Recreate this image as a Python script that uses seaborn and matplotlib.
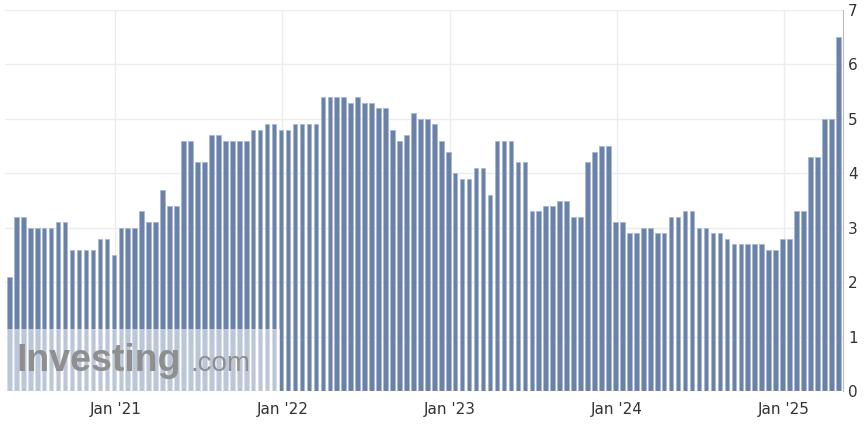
import numpy as np
import pandas as pd
import seaborn as sns
import matplotlib.pyplot as plt
from matplotlib.patches import Rectangle

# semi-monthly readings, mid-2020 to spring 2025
values = [2.1, 3.2, 3.2, 3.0, 3.0, 3.0, 3.0, 3.1, 3.1, 2.6, 2.6, 2.6, 2.6, 2.8, 2.8, 2.5,
          3.0, 3.0, 3.0, 3.3, 3.1, 3.1, 3.7, 3.4, 3.4, 4.6, 4.6, 4.2, 4.2, 4.7, 4.7, 4.6,
          4.6, 4.6, 4.6, 4.8, 4.8, 4.9, 4.9, 4.8, 4.8,
          4.9, 4.9, 4.9, 4.9, 5.4, 5.4, 5.4, 5.4, 5.3, 5.4, 5.3, 5.3, 5.2, 5.2, 4.8, 4.6,
          4.7, 5.1, 5.0, 5.0, 4.9, 4.6, 4.4, 4.0, 3.9, 3.9, 4.1, 4.1, 3.6, 4.6, 4.6, 4.6,
          4.2, 4.2, 3.3, 3.3, 3.4, 3.4, 3.5, 3.5,
          3.2, 3.2, 4.2, 4.4, 4.5, 4.5, 3.1, 3.1, 2.9, 2.9, 3.0, 3.0, 2.9, 2.9, 3.2, 3.2,
          3.3, 3.3, 3.0, 3.0, 2.9, 2.9, 2.8, 2.7, 2.7, 2.7, 2.7, 2.7, 2.6, 2.6, 2.8, 2.8,
          3.3, 3.3, 4.3, 4.3, 5.0, 5.0, 6.5]
tick_labels = ["Jan '21", "Jan '22", "Jan '23", "Jan '24", "Jan '25"]
first_jan = 15.2  # position of Jan '21 in bar index units

df = pd.DataFrame({"idx": np.arange(len(values)), "value": values})

fig = plt.figure(figsize=(8.65, 4.3), dpi=100)
ax = fig.add_axes([0.006, 0.09, 0.968, 0.887])
sns.barplot(data=df, x="idx", y="value", ax=ax, color="#6a82aa", width=0.66,
            saturation=1, edgecolor="#a9b8d0", linewidth=0.6)

ax.set_xlim(-0.6, len(values) - 0.4)
ax.set_ylim(0, 7)
ax.set_xlabel("")
ax.set_ylabel("")
ax.set_xticks([first_jan + 24 * k for k in range(len(tick_labels))])
ax.set_xticklabels(tick_labels)
ax.yaxis.tick_right()
ax.set_yticks(range(8))
ax.tick_params(axis="y", length=0, labelsize=11, colors="#333333", pad=4)
ax.tick_params(axis="x", length=0, labelsize=11, colors="#333333", pad=8)
ax.grid(True, color="#ececec", linewidth=1)
ax.set_axisbelow(True)
for s in ["top", "left", "bottom"]:
    ax.spines[s].set_visible(False)
ax.spines["right"].set_color("#bbbbbb")

# watermark
ax.add_patch(Rectangle((-0.6, 0), 39.5, 1.15, facecolor="white", alpha=0.55,
                       edgecolor="none", zorder=5))
ax.text(1.0, 0.55, "Investing", fontsize=27, fontweight="bold", color="#8f8f8f",
        va="center", ha="left", zorder=6, family="Liberation Sans")
ax.text(26.0, 0.5, ".com", fontsize=20, color="#8f8f8f", va="center", ha="left",
        zorder=6, family="Liberation Sans")

fig.savefig("out.png", dpi=100)
